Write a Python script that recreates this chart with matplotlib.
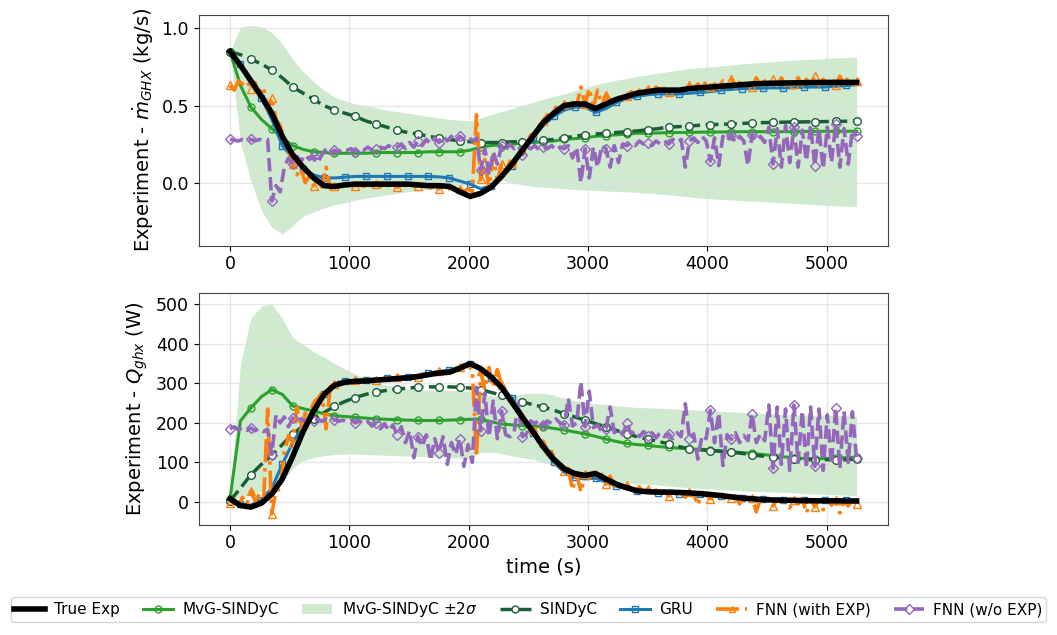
import numpy as np
import matplotlib
matplotlib.use("Agg")
import matplotlib.pyplot as plt
from matplotlib.patches import Patch
from matplotlib.lines import Line2D

# time grids: smooth model outputs every 87.5 s, noisy FNN outputs every 35 s
t_smooth = np.linspace(0, 5250, 61)
t_noisy = np.linspace(0, 5250, 151)

# ---------------- top panel: mass flow (kg/s) ----------------
true_top = [0.85, 0.76, 0.66, 0.56, 0.45, 0.30, 0.18, 0.10, 0.03, -0.02,
            -0.025, -0.015, -0.01, -0.01, -0.01, -0.01, -0.01, -0.01, -0.015, -0.02,
            -0.02, -0.025, -0.06, -0.09, -0.07, -0.03, 0.04, 0.12, 0.21, 0.30,
            0.39, 0.45, 0.50, 0.51, 0.51, 0.48, 0.51, 0.54, 0.56, 0.58,
            0.59, 0.60, 0.60, 0.60, 0.61, 0.615, 0.62, 0.625, 0.63, 0.635,
            0.64, 0.643, 0.645, 0.646, 0.647, 0.648, 0.649, 0.65, 0.65, 0.65, 0.65]
mvg_top = [0.85, 0.63, 0.49, 0.41, 0.35, 0.29, 0.24, 0.215, 0.20, 0.195,
           0.19, 0.19, 0.19, 0.19, 0.195, 0.195, 0.195, 0.195, 0.195, 0.20,
           0.20, 0.20, 0.20, 0.21, 0.23, 0.24, 0.245, 0.25, 0.255, 0.26,
           0.265, 0.27, 0.28, 0.285, 0.29, 0.30, 0.305, 0.31, 0.315, 0.32,
           0.32, 0.322, 0.324, 0.325, 0.326, 0.327, 0.328, 0.328, 0.329, 0.33,
           0.33, 0.33, 0.33, 0.33, 0.33, 0.332, 0.332, 0.333, 0.333, 0.333, 0.333]
band_hi_top = [0.85, 1.01, 1.02, 1.01, 0.975, 0.90, 0.80, 0.72, 0.655, 0.60,
               0.555, 0.53, 0.51, 0.50, 0.485, 0.47, 0.46, 0.45, 0.44, 0.43,
               0.42, 0.41, 0.405, 0.40, 0.42, 0.44, 0.46, 0.48, 0.50, 0.52,
               0.54, 0.56, 0.575, 0.595, 0.615, 0.635, 0.65, 0.665, 0.675, 0.69,
               0.70, 0.71, 0.72, 0.73, 0.74, 0.745, 0.75, 0.757, 0.763, 0.77,
               0.775, 0.78, 0.785, 0.79, 0.795, 0.80, 0.80, 0.805, 0.81, 0.81, 0.815]
band_lo_top = [0.85, 0.26, 0.01, -0.18, -0.29, -0.335, -0.28, -0.22, -0.19, -0.165,
               -0.145, -0.13, -0.115, -0.10, -0.09, -0.08, -0.07, -0.06, -0.055, -0.045,
               -0.04, -0.03, -0.02, -0.01, 0.0, 0.01, 0.015, 0.0, -0.015, -0.026,
               -0.03, -0.035, -0.04, -0.045, -0.047, -0.05, -0.055, -0.058, -0.06, -0.063,
               -0.068, -0.073, -0.08, -0.087, -0.093, -0.10, -0.105, -0.11, -0.113, -0.117,
               -0.12, -0.124, -0.127, -0.131, -0.135, -0.14, -0.143, -0.147, -0.15, -0.153, -0.155]
sindyc_top = [0.85, 0.83, 0.80, 0.77, 0.73, 0.68, 0.62, 0.58, 0.54, 0.50,
              0.47, 0.45, 0.43, 0.40, 0.38, 0.36, 0.34, 0.325, 0.315, 0.30,
              0.29, 0.28, 0.27, 0.265, 0.26, 0.26, 0.26, 0.265, 0.265, 0.27,
              0.275, 0.28, 0.29, 0.30, 0.31, 0.315, 0.32, 0.325, 0.33, 0.335,
              0.343, 0.35, 0.36, 0.363, 0.367, 0.372, 0.376, 0.378, 0.38, 0.384,
              0.387, 0.389, 0.39, 0.392, 0.393, 0.394, 0.395, 0.396, 0.397, 0.398, 0.40]
gru_top = [0.85, 0.77, 0.67, 0.55, 0.41, 0.24, 0.16, 0.09, 0.05, 0.03,
           0.03, 0.035, 0.04, 0.04, 0.04, 0.04, 0.04, 0.04, 0.04, 0.04,
           0.037, 0.03, 0.01, -0.01, -0.04, -0.02, 0.04, 0.11, 0.20, 0.29,
           0.37, 0.43, 0.47, 0.49, 0.49, 0.455, 0.48, 0.52, 0.545, 0.56,
           0.57, 0.575, 0.575, 0.575, 0.58, 0.585, 0.59, 0.60, 0.605, 0.61,
           0.612, 0.613, 0.615, 0.615, 0.615, 0.62, 0.62, 0.62, 0.625, 0.63, 0.635]
fnn_top = [0.63, 0.60, 0.66, 0.64, 0.66, 0.61, 0.65, 0.57, 0.62, 0.47,
           0.55, 0.41, 0.37, 0.29, 0.21, 0.12, 0.05, 0.09, 0.00, 0.04,
           -0.02, 0.02, -0.03, 0.10, -0.04, -0.02, -0.03, -0.01, -0.025, -0.01,
           -0.02, -0.015, -0.025, -0.01, -0.02, -0.01, -0.025, -0.015, -0.02, -0.01,
           -0.03, -0.015, -0.02, -0.01, -0.025, -0.02, -0.03, -0.015, -0.035, -0.02,
           -0.04, -0.03, -0.045, -0.03, -0.05, -0.04, -0.06, -0.04, -0.06, 0.44,
           0.02, 0.15, -0.04, 0.18, 0.01, 0.12, 0.06, 0.14, 0.10, 0.19,
           0.21, 0.25, 0.31, 0.30, 0.37, 0.40, 0.44, 0.43, 0.49, 0.47,
           0.51, 0.49, 0.52, 0.50, 0.62, 0.51, 0.61, 0.49, 0.60, 0.50,
           0.57, 0.53, 0.56, 0.55, 0.57, 0.56, 0.59, 0.57, 0.60, 0.58,
           0.61, 0.59, 0.62, 0.60, 0.61, 0.59, 0.62, 0.60, 0.61, 0.60,
           0.63, 0.61, 0.64, 0.61, 0.66, 0.62, 0.64, 0.61, 0.66, 0.62,
           0.67, 0.62, 0.65, 0.63, 0.66, 0.62, 0.68, 0.63, 0.66, 0.63,
           0.67, 0.63, 0.68, 0.63, 0.66, 0.64, 0.68, 0.63, 0.67, 0.64,
           0.69, 0.63, 0.67, 0.64, 0.68, 0.63, 0.69, 0.64, 0.68, 0.64, 0.66]
fnn_noexp_top = [0.28, 0.275, 0.27, 0.28, 0.275, 0.28, 0.27, 0.28, 0.275, 0.28,
                 -0.12, -0.02, -0.06, 0.10, 0.16, 0.12, 0.17, 0.14, 0.18, 0.15,
                 0.17, 0.13, 0.18, 0.22, 0.19, 0.21, 0.20, 0.22, 0.21, 0.22,
                 0.20, 0.22, 0.21, 0.23, 0.21, 0.22, 0.23, 0.22, 0.24, 0.22,
                 0.23, 0.25, 0.22, 0.26, 0.23, 0.27, 0.24, 0.28, 0.25, 0.29,
                 0.26, 0.30, 0.27, 0.30, 0.26, 0.30, 0.28, 0.30, 0.27, 0.29,
                 0.08, 0.22, 0.05, 0.20, 0.12, 0.24, 0.21, 0.25, 0.22, 0.24,
                 0.18, 0.23, 0.22, 0.24, 0.21, 0.23, 0.22, 0.24, 0.21, 0.23,
                 0.22, 0.24, 0.16, 0.23, 0.00, 0.22, 0.03, 0.23, 0.10, 0.24,
                 0.22, 0.10, 0.24, 0.13, 0.25, 0.24, 0.26, 0.24, 0.27, 0.25,
                 0.26, 0.24, 0.27, 0.25, 0.27, 0.25, 0.28, 0.26, 0.28, 0.10,
                 0.27, 0.29, 0.26, 0.30, 0.27, 0.14, 0.29, 0.11, 0.30, 0.27,
                 0.31, 0.26, 0.30, 0.27, 0.11, 0.31, 0.27, 0.30, 0.26, 0.36,
                 0.12, 0.35, 0.10, 0.37, 0.13, 0.36, 0.10, 0.34, 0.14, 0.37,
                 0.11, 0.35, 0.09, 0.36, 0.13, 0.38, 0.10, 0.35, 0.12, 0.34, 0.30]

# ---------------- bottom panel: heat rate (W) ----------------
true_bot = [8, -9, -13, -3, 20, 58, 115, 178, 230, 272,
            295, 303, 305, 306, 308, 310, 312, 314, 317, 322,
            326, 328, 338, 350, 337, 316, 290, 252, 214, 178,
            140, 108, 84, 72, 67, 72, 58, 45, 36, 28,
            26, 25, 25, 24, 23, 21, 19, 16, 13, 10,
            8, 6, 5, 4.5, 4, 3.5, 3, 3, 3, 2.5, 2.5]
mvg_bot = [8, 205, 238, 266, 284, 272, 243, 236, 230, 223,
           218, 216, 214, 212, 210, 209, 208, 207, 206, 206,
           206, 207, 208, 209, 209, 203, 197, 195, 193, 192,
           190, 186, 182, 177, 172, 166, 159, 153, 148, 145,
           143, 140, 138, 136, 134, 133, 132, 129, 127, 125,
           123, 120, 117, 114, 112, 110, 109, 110, 111, 112, 113]
band_hi_bot = [8, 350, 465, 495, 500, 465, 415, 398, 380, 366,
               350, 336, 323, 312, 302, 295, 290, 286, 284, 283,
               282, 282, 282, 278, 272, 268, 268, 270, 273, 275,
               275, 270, 262, 256, 252, 248, 246, 243, 241, 239,
               238, 237, 236, 234, 233, 232, 231, 229, 228, 226,
               225, 224, 223, 222, 221, 220, 219, 219, 218, 218, 217]
band_lo_bot = [3, 12, 20, 27, 38, 50, 85, 105, 112, 117,
               120, 121, 121, 120, 119, 118, 117, 116, 115, 114,
               113, 112, 111, 110, 125, 126, 122, 117, 112, 108,
               100, 92, 84, 77, 70, 63, 58, 53, 49, 45,
               45, 43, 40, 38, 36, 34, 33, 31, 30, 28,
               27, 26, 25, 24, 23, 21, 20, 19, 18, 17, 16]
sindyc_bot = [3, 35, 69, 95, 118, 145, 172, 192, 209, 226,
              242, 254, 264, 272, 278, 282, 285, 288, 290, 291,
              291, 291, 290, 288, 284, 277, 270, 262, 253, 246,
              240, 232, 223, 215, 207, 198, 190, 181, 172, 165,
              159, 153, 147, 140, 134, 132, 130, 128, 126, 123,
              119, 116, 113, 111, 109, 108, 107, 107, 107, 107, 108]
gru_bot = [5, -5, -8, 5, 35, 95, 150, 192, 235, 272,
           298, 305, 307, 309, 311, 313, 315, 317, 320, 325,
           330, 333, 340, 348, 336, 313, 292, 262, 220, 175,
           135, 100, 75, 62, 58, 60, 50, 40, 33, 27,
           24, 22, 22, 21, 20, 19, 17, 15, 12, 10,
           8, 7, 6, 5, 5, 4, 4, 4, 4, 4, 4]
fnn_bot = [-2, 5, -8, 12, -5, 28, 2, 20, -6, 235,
           -30, 28, 33, 125, 168, 150, 240, 180, 225, 210,
           250, 262, 275, 185, 292, 298, 303, 300, 306, 302,
           308, 304, 310, 306, 312, 308, 313, 310, 315, 311,
           316, 313, 318, 315, 320, 317, 323, 320, 327, 324,
           330, 327, 332, 330, 338, 340, 347, 344, 335, 115,
           330, 285, 340, 290, 335, 295, 280, 262, 248, 232,
           218, 195, 175, 185, 145, 150, 120, 128, 95, 100,
           78, 85, 30, 72, 25, 70, 60, 75, 62, 70,
           45, 65, 40, 50, 30, 42, 35, 28, 38, 25,
           32, 22, 30, 24, 28, 15, 27, 22, 26, 12,
           25, 20, -8, 22, 18, 8, 20, 15, 5, 16,
           10, 14, -5, 12, 5, 10, -25, 8, 2, 9,
           -10, 8, 0, 7, -15, 6, -5, 8, -28, 6,
           -12, 5, -20, 6, -8, 5, -28, 4, -10, 5, -5]
fnn_noexp_bot = [185, 190, 183, 188, 181, 187, 180, 186, 178, 184,
                 120, 220, 200, 215, 190, 212, 205, 210, 203, 211,
                 205, 209, 204, 210, 205, 208, 204, 207, 202, 206,
                 200, 205, 196, 203, 192, 200, 185, 198, 180, 195,
                 170, 190, 150, 180, 112, 165, 140, 170, 105, 160,
                 125, 165, 95, 150, 120, 160, 90, 145, 100, 290,
                 180, 275, 165, 255, 160, 230, 170, 165, 175, 250,
                 165, 172, 205, 198, 208, 195, 205, 198, 210, 200,
                 195, 262, 192, 200, 305, 190, 280, 188, 195, 178,
                 185, 240, 175, 185, 170, 200, 172, 180, 165, 178,
                 168, 175, 162, 176, 165, 172, 160, 175, 165, 248,
                 160, 172, 108, 168, 160, 232, 150, 225, 92, 170,
                 158, 175, 150, 168, 155, 222, 150, 172, 155, 245,
                 85, 240, 95, 235, 80, 245, 100, 230, 85, 240,
                 90, 235, 80, 220, 95, 238, 85, 230, 100, 228, 110]

c_true = 'black'
c_mvg = '#2ca02c'
c_sindyc = '#1b5e35'
c_gru = '#1f77b4'
c_fnn = '#ff7f0e'
c_noexp = '#9467bd'

fig = plt.figure(figsize=(10.57, 6.35), dpi=100)
ax1 = fig.add_axes([0.188, 0.613, 0.652, 0.364])
ax2 = fig.add_axes([0.188, 0.174, 0.652, 0.365])

panels = [
    (ax1, true_top, mvg_top, band_lo_top, band_hi_top, sindyc_top, gru_top, fnn_top, fnn_noexp_top),
    (ax2, true_bot, mvg_bot, band_lo_bot, band_hi_bot, sindyc_bot, gru_bot, fnn_bot, fnn_noexp_bot),
]

for ax, y_true, y_mvg, lo, hi, y_sin, y_gru, y_fnn, y_nox in panels:
    ax.fill_between(t_smooth, lo, hi, color=c_mvg, alpha=0.22, linewidth=0, zorder=1)
    ax.plot(t_smooth, y_mvg, '-', color=c_mvg, lw=2.2, marker='o', ms=5,
            mfc='none', mec=c_mvg, mew=1, markevery=2, zorder=3)
    ax.plot(t_smooth, y_sin, '--', color=c_sindyc, lw=2.5, marker='o', ms=5.5,
            mfc='white', mec=c_sindyc, mew=1, markevery=2, zorder=4)
    ax.plot(t_smooth, y_gru, '-', color=c_gru, lw=2.2, marker='s', ms=5,
            mfc='none', mec=c_gru, mew=1, markevery=(1, 2), zorder=4)
    ax.plot(t_noisy, y_fnn, '-.', color=c_fnn, lw=2.6, marker='^', ms=5.5,
            mfc='none', mec=c_fnn, mew=1, markevery=5, zorder=5)
    ax.plot(t_noisy, y_nox, '--', color=c_noexp, lw=2.6, marker='D', ms=5.5,
            mfc='none', mec=c_noexp, mew=1, markevery=5, zorder=6)
    ax.plot(t_smooth, y_true, '-', color=c_true, lw=4, zorder=7)
    ax.grid(True, color='#dddddd', lw=1, alpha=0.7)
    ax.set_xlim(-262.5, 5512.5)
    ax.set_xticks([0, 1000, 2000, 3000, 4000, 5000])
    ax.tick_params(labelsize=12.5)
    for s in ax.spines.values():
        s.set_color('#444444')

ax1.set_ylim(-0.41, 1.09)
ax1.set_yticks([0.0, 0.5, 1.0])
ax2.set_ylim(-57, 529)
ax2.set_yticks([0, 100, 200, 300, 400, 500])
ax1.set_ylabel(r'Experiment - $\dot{m}_{GHX}$ (kg/s)', fontsize=14)
ax2.set_ylabel(r'Experiment - $Q_{ghx}$ (W)', fontsize=14)
ax2.set_xlabel('time (s)', fontsize=14)

handles = [
    Line2D([], [], color=c_true, lw=4),
    Line2D([], [], color=c_mvg, lw=2.2, marker='o', ms=5, mfc='none'),
    Patch(facecolor=c_mvg, alpha=0.22),
    Line2D([], [], color=c_sindyc, lw=2.5, ls='--', marker='o', ms=5, mfc='white'),
    Line2D([], [], color=c_gru, lw=2.2, marker='s', ms=5, mfc='none'),
    Line2D([], [], color=c_fnn, lw=2.6, ls='-.', marker='^', ms=5, mfc='none'),
    Line2D([], [], color=c_noexp, lw=2.6, ls='--', marker='D', ms=5, mfc='none'),
]
labels = ['True Exp', 'MvG-SINDyC', r'MvG-SINDyC $\pm 2\sigma$', 'SINDyC', 'GRU',
          'FNN (with EXP)', 'FNN (w/o EXP)']
fig.legend(handles, labels, loc='lower center', bbox_to_anchor=(0.5, 0.008),
           ncol=7, fontsize=11, frameon=True, handlelength=2.0, columnspacing=1.5,
           borderpad=0.2, handletextpad=0.6)

fig.savefig('out.png', dpi=100)
